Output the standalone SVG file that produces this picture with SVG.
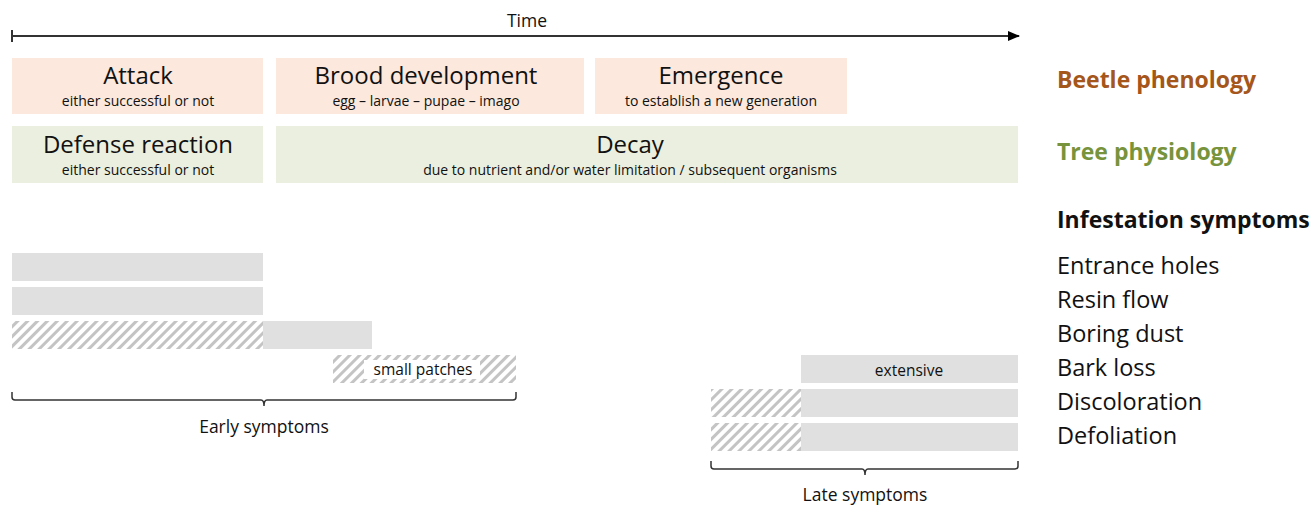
<svg xmlns="http://www.w3.org/2000/svg" width="1312" height="505" viewBox="0 0 1312 505">
<style>
text{font-family:"Open Sans","Liberation Sans",sans-serif;fill:#111}
.beetle{fill:#fce8dc}
.tree{fill:#ebefdf}
.bar{fill:#e0e0e0}
.hatch{fill:url(#hatch)}
.title{font-size:24px;text-anchor:middle}
.sub{font-size:14px;text-anchor:middle}
.lab{font-size:23.5px}
.head{font-size:23px;font-weight:bold}
.brace{fill:none;stroke:#333;stroke-width:1.5}
</style>
<defs>
<pattern id="hatch" patternUnits="userSpaceOnUse" width="7" height="7" patternTransform="rotate(45)">
<rect width="7" height="7" fill="#fff"/>
<line x1="1.5" y1="0" x2="1.5" y2="7" stroke="#c4c4c4" stroke-width="3"/>
</pattern>
<marker id="arr" markerWidth="12" markerHeight="10" refX="11" refY="5" orient="auto" markerUnits="userSpaceOnUse">
<path d="M0,0 L12,5 L0,10 Z" fill="#000"/>
</marker>
</defs>

<g id="time-axis">
<line x1="12" y1="36" x2="1019" y2="36" stroke="#333" stroke-width="2" marker-end="url(#arr)"/>
<line x1="12" y1="30" x2="12" y2="42" stroke="#333" stroke-width="2"/>
<text x="527" y="27" style="font-size:17.5px;text-anchor:middle">Time</text>
</g>

<g id="attack">
<rect class="beetle" x="12" y="58" width="251" height="56"/>
<text class="title" x="138" y="84">Attack</text>
<text class="sub" x="138" y="106">either successful or not</text>
</g>
<g id="brood">
<rect class="beetle" x="276" y="58" width="308" height="56"/>
<text class="title" x="426" y="84">Brood development</text>
<text class="sub" x="426" y="106">egg – larvae – pupae – imago</text>
</g>
<g id="emergence">
<rect class="beetle" x="595" y="58" width="252" height="56"/>
<text class="title" x="721" y="84">Emergence</text>
<text class="sub" x="721" y="106">to establish a new generation</text>
</g>
<g id="defense">
<rect class="tree" x="12" y="126" width="251" height="57"/>
<text class="title" x="138" y="153">Defense reaction</text>
<text class="sub" x="138" y="175">either successful or not</text>
</g>
<g id="decay">
<rect class="tree" x="276" y="126" width="742" height="57"/>
<text class="title" x="630" y="153">Decay</text>
<text class="sub" x="630" y="175">due to nutrient and/or water limitation / subsequent organisms</text>
</g>

<g id="labels">
<text class="head" x="1057" y="88" style="fill:#a5561a">Beetle phenology</text>
<text class="head" x="1057" y="160" style="fill:#77933c">Tree physiology</text>
<text class="head" x="1057" y="228">Infestation symptoms</text>
<text class="lab" x="1057" y="274">Entrance holes</text>
<text class="lab" x="1057" y="308">Resin flow</text>
<text class="lab" x="1057" y="342">Boring dust</text>
<text class="lab" x="1057" y="376">Bark loss</text>
<text class="lab" x="1057" y="410">Discoloration</text>
<text class="lab" x="1057" y="444">Defoliation</text>
</g>

<g id="entrance-holes">
<rect class="bar" x="12" y="253" width="251" height="28"/>
</g>
<g id="resin-flow">
<rect class="bar" x="12" y="287" width="251" height="28"/>
</g>
<g id="boring-dust">
<rect class="hatch" x="12" y="321" width="251" height="28"/>
<rect class="bar" x="263" y="321" width="109" height="28"/>
</g>
<g id="bark-loss">
<rect class="hatch" x="333" y="355" width="183" height="28"/>
<rect x="364" y="360" width="116" height="19" fill="#fff"/>
<text x="423" y="375" style="font-size:15.5px;text-anchor:middle">small patches</text>
<rect class="bar" x="801" y="355" width="217" height="28"/>
<text x="909" y="376" style="font-size:15.5px;text-anchor:middle">extensive</text>
</g>
<g id="discoloration">
<rect class="hatch" x="711" y="389" width="90" height="28"/>
<rect class="bar" x="801" y="389" width="217" height="28"/>
</g>
<g id="defoliation">
<rect class="hatch" x="711" y="423" width="90" height="28"/>
<rect class="bar" x="801" y="423" width="217" height="28"/>
</g>

<g id="connectors">
<path class="brace" d="M12,392 L12,397 Q12,400 15,400 L261,400 Q264,400 264,406 Q264,400 267,400 L513,400 Q516,400 516,397 L516,392"/>
<path class="brace" d="M711,461 L711,466 Q711,469 714,469 L862,469 Q865,469 865,475 Q865,469 868,469 L1015,469 Q1018,469 1018,466 L1018,461"/>
</g>
<g id="brace-labels">
<text x="264" y="433" style="font-size:17.5px;text-anchor:middle">Early symptoms</text>
<text x="865" y="501" style="font-size:17.5px;text-anchor:middle">Late symptoms</text>
</g>
</svg>
